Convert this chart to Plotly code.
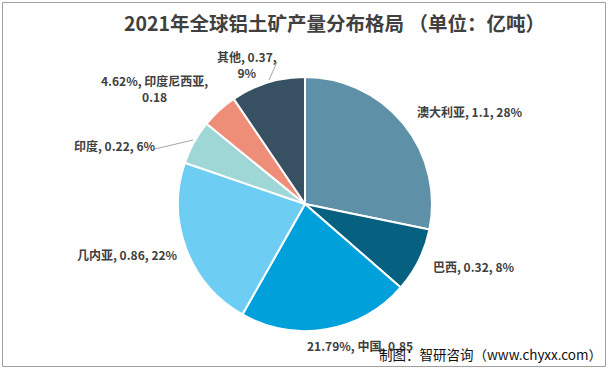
import plotly.graph_objects as go

W, H = 613, 370

countries = ["澳大利亚", "巴西", "中国", "几内亚", "印度", "印度尼西亚", "其他"]
values = [1.1, 0.32, 0.85, 0.86, 0.22, 0.18, 0.37]
colors = ["#5E90A8", "#06607F", "#00A1DB", "#6DCDF3", "#9FD7D6", "#EE8D78", "#375163"]

total = sum(values)
pcts = [v / total * 100 for v in values]


def lbl(i, order, dec=0, br=None):
    parts = {"n": countries[i], "v": f"{values[i]:g}", "p": f"{pcts[i]:.{dec}f}%"}
    items = [parts[k] for k in order]
    if br is None:
        return ", ".join(items)
    return ", ".join(items[:br]) + ",<br>" + ", ".join(items[br:])


# label text + position (pixel) + anchor
labels = [
    (lbl(0, "nvp"), 415, 111, "left"),
    (lbl(1, "nvp"), 431, 266, "left"),
    (lbl(2, "pnv", 2), 305, 345, "left"),
    (lbl(3, "nvp"), 75, 254, "left"),
    (lbl(4, "nvp"), 72, 145, "left"),
    (lbl(5, "pnv", 2, 2), 154, 88, "center"),
    (lbl(6, "nvp", 0, 2), 247, 64, "center"),
]

fig = go.Figure(go.Pie(
    labels=countries, values=values, sort=False, direction="clockwise",
    rotation=0, textinfo="none", hoverinfo="label+value+percent",
    marker=dict(colors=colors, line=dict(color="white", width=2)),
    domain=dict(x=[(305 - 127) / W, (305 + 127) / W], y=[1 - 331 / H, 1 - 77 / H]),
    showlegend=False,
))

ann = []
for text, x, y, anchor in labels:
    ann.append(dict(x=x / W, y=1 - y / H, xref="paper", yref="paper", text=text,
                    showarrow=False, xanchor=anchor, yanchor="middle", align="center",
                    font=dict(family="Noto Sans CJK SC", size=12, color="#404040", weight="bold")))

ann.append(dict(x=604 / W, y=1 - 354 / H, xref="paper", yref="paper",
                text="制图：智研咨询（www.chyxx.com）", showarrow=False,
                xanchor="right", yanchor="middle",
                font=dict(family="Noto Sans CJK SC", size=13.5, color="#111111")))

ann.append(dict(x=334 / W, y=1 - 22 / H, xref="paper", yref="paper",
                text="2021年全球铝土矿产量分布格局 （单位：亿吨）", showarrow=False,
                xanchor="center", yanchor="middle",
                font=dict(family="Noto Sans CJK SC", size=19.5, color="#404040", weight="bold")))

def px_line(x0, y0, x1, y1):
    return dict(type="line", xref="paper", yref="paper", x0=x0 / W, y0=1 - y0 / H,
                x1=x1 / W, y1=1 - y1 / H, line=dict(color="#A6A6A6", width=1))

shapes = [
    px_line(155, 149, 193, 140),
    px_line(277, 62, 269, 80),
    dict(type="rect", xref="paper", yref="paper", x0=2.5 / W, x1=605.5 / W,
         y0=1 - 366.5 / H, y1=1 - 2.5 / H, line=dict(color="#A0A0A0", width=1)),
]

fig.update_layout(
    width=W, height=H, margin=dict(l=0, r=0, t=0, b=0),
    paper_bgcolor="white", plot_bgcolor="white",
    annotations=ann, shapes=shapes,
)

fig.write_html("out.html", config={"displayModeBar": False},
               post_script="document.body.style.margin='0';document.body.style.padding='0';")
